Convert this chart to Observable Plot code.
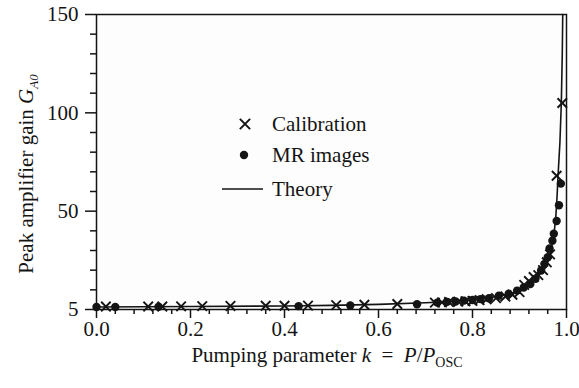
<!DOCTYPE html>
<html><head><meta charset="utf-8">
<script src="https://cdn.jsdelivr.net/npm/d3@7"></script>
<script src="https://cdn.jsdelivr.net/npm/@observablehq/plot@0.6"></script>
<style>body{margin:0;background:#fff} #chart svg{display:block} #chart svg text{font-family:"Liberation Serif","DejaVu Serif",serif !important}</style>
</head><body><div id="chart"></div>
<script>
// Calibration (×)
const calK = [0.02,0.11,0.14,0.18,0.225,0.285,0.36,0.40,0.45,0.51,0.57,0.64,0.72,0.735,0.75,0.77,0.785,0.80,0.815,0.83,0.85,0.87,0.885,0.90,0.91,0.92,0.93,0.94,0.95,0.958,0.965,0.979,0.991];
const calG = [1.5,1.5,1.5,1.6,1.7,1.8,1.9,1.9,2.0,2.2,2.4,2.8,3.5,3.6,3.8,4.0,4.2,4.4,4.8,5.2,5.8,6.6,7.5,8.8,12.5,14.5,16.5,17.5,20,24,28,68,105];
// MR images (●)
const mrK = [0.0,0.04,0.132,0.43,0.54,0.682,0.725,0.746,0.764,0.782,0.80,0.817,0.835,0.856,0.877,0.895,0.909,0.923,0.934,0.946,0.953,0.960,0.964,0.970,0.973,0.979,0.984,0.988];
const mrG = [1.3,1.3,1.4,1.7,2.0,2.7,3.5,3.9,4.1,4.5,4.8,5.3,5.7,7.0,8.0,9.6,11.2,13.0,15.6,19.8,23.2,26.6,31,35,38.5,45,53,64];
// Theory (line)
const thK = [0.0,0.2,0.4,0.5,0.6,0.7,0.75,0.8,0.85,0.88,0.9,0.92,0.94,0.955,0.965,0.972,0.977,0.980,0.982,0.986,0.989,0.991,0.992];
const thG = [1.3,1.5,1.8,2.1,2.6,3.4,4.0,4.8,6.5,8.0,9.7,12.5,17,22,28,36,46,58,68,85,105,130,150];

const xTicks = [0,0.2,0.4,0.6,0.8,1.0];
const xTickLabels = ["0.0","0.2","0.4","0.6","0.8","1.0"];
const xMinor = [0.04,0.08,0.12,0.16,0.24,0.28,0.32,0.36,0.44,0.48,0.52,0.56,0.64,0.68,0.72,0.76,0.84,0.88,0.92,0.96];
const yTicks = [0,50,100,150];
const yTickLabels = ["5","50","100","150"];
const yMinor = [10,20,30,40,60,70,80,90,110,120,130,140];

const cal = calK.map((k,i)=>({k, g: calG[i]}));
const mr = mrK.map((k,i)=>({k, g: mrG[i]}));
const th = thK.map((k,i)=>({k, g: thG[i]}));

const ink = "#141414";
const font = "Liberation Serif, DejaVu Serif, serif";

const chart = Plot.plot({
  width: 579, height: 388,
  marginLeft: 96, marginRight: 13, marginTop: 14, marginBottom: 79,
  style: {fontFamily: font, fontSize: "21px", background: "#fff", color: ink},
  x: {domain: [0,1]},
  y: {domain: [0,150]},
  marks: [
    Plot.frame({fill: "#fdfdfd", stroke: "none"}),
    Plot.axisX(xMinor, {tickSize: 5, tickFormat: () => "", strokeWidth: 1.5, label: null}),
    Plot.axisX(xTicks, {tickSize: 9, tickPadding: 3, tickFormat: d => xTickLabels[xTicks.indexOf(d)], strokeWidth: 1.5, fontSize: 21, label: null}),
    Plot.axisY(yMinor, {tickSize: 6, tickFormat: () => "", strokeWidth: 1.5, label: null}),
    Plot.axisY(yTicks, {tickSize: 11, tickPadding: 7, tickFormat: d => yTickLabels[yTicks.indexOf(d)], strokeWidth: 1.5, fontSize: 21, label: null}),
    Plot.frame({stroke: ink, strokeWidth: 1.5}),
    Plot.line(th, {x: "k", y: "g", stroke: ink, strokeWidth: 1.6}),
    Plot.dot(mr, {x: "k", y: "g", r: 4.2, fill: ink, stroke: "none"}),
    Plot.dot(cal, {x: "k", y: "g", symbol: "times", r: 4.4, stroke: ink, strokeWidth: 1.9})
  ]
});
document.getElementById("chart").appendChild(chart);

const svg = d3.select(chart);
// x-axis label
const xl = svg.append("text").attr("x", 327).attr("y", 362).attr("text-anchor", "middle")
  .attr("font-size", 21).attr("fill", ink);
xl.append("tspan").text("Pumping parameter ");
xl.append("tspan").attr("font-style", "italic").text("k");
xl.append("tspan").text("\u2002=\u2002");
xl.append("tspan").attr("font-style", "italic").text("P");
xl.append("tspan").text("/");
xl.append("tspan").attr("font-style", "italic").text("P");
xl.append("tspan").attr("font-size", 14).attr("dy", 5).text("OSC");

// y-axis label
const yl = svg.append("text").attr("transform", "translate(33,174) rotate(-90)").attr("text-anchor", "middle")
  .attr("font-size", 21).attr("fill", ink);
yl.append("tspan").text("Peak amplifier gain ");
yl.append("tspan").attr("font-style", "italic").text("G");
yl.append("tspan").attr("font-style", "italic").attr("font-size", 13).attr("dy", 5).text("A0");

// legend
const lg = svg.append("g").attr("font-size", 21).attr("fill", ink).attr("text-anchor", "start");
lg.append("path").attr("d", d3.symbol(d3.symbolTimes, 70)()).attr("transform", "translate(245,124)")
  .attr("stroke", ink).attr("stroke-width", 2).attr("fill", "none");
lg.append("text").attr("x", 272).attr("y", 131).attr("text-anchor", "start").text("Calibration");
lg.append("circle").attr("cx", 244).attr("cy", 155).attr("r", 4.2).attr("fill", ink);
lg.append("text").attr("x", 272).attr("y", 162).attr("text-anchor", "start").text("MR images");
lg.append("line").attr("x1", 222).attr("x2", 263).attr("y1", 189).attr("y2", 189).attr("stroke", ink).attr("stroke-width", 1.6);
lg.append("text").attr("x", 272).attr("y", 196).attr("text-anchor", "start").text("Theory");
</script>
</body></html>
